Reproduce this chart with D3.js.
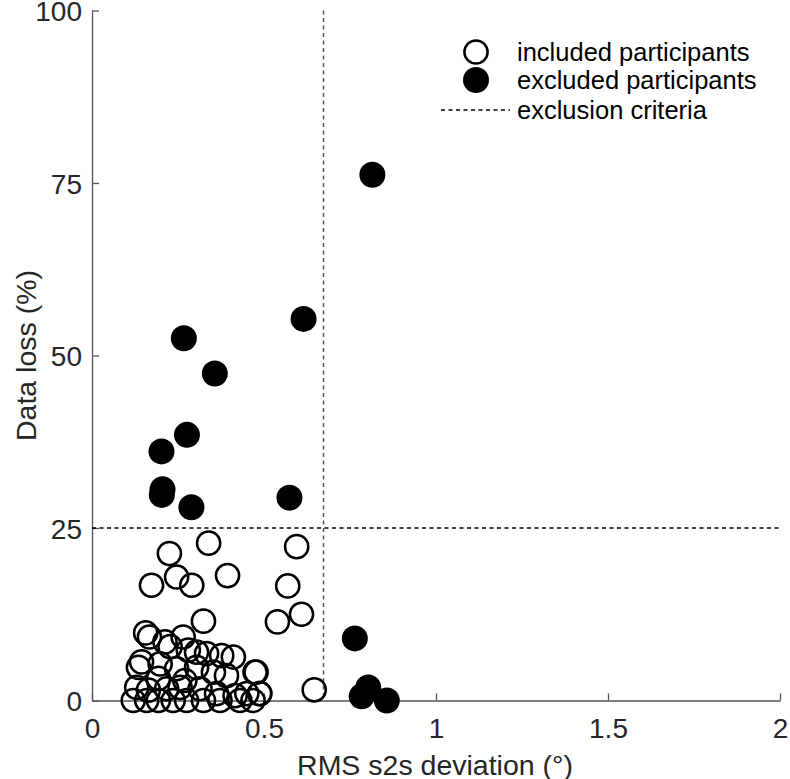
<!DOCTYPE html>
<html><head><meta charset="utf-8">
<script src="https://cdn.jsdelivr.net/npm/d3@7"></script>
<style>body{margin:0;background:#fff}svg{display:block}text{font-family:"Liberation Sans",Arial,sans-serif}</style>
</head><body>
<svg id="c" width="790" height="779"></svg>
<script>
const includedX = [0.225,0.339,0.595,0.569,0.609,0.539,0.646,0.477,0.487,0.173,0.246,0.29,0.394,0.324,
  0.156,0.167,0.212,0.265,0.227,0.304,0.28,0.333,0.377,0.411,0.474,0.135,0.144,0.198,0.246,0.304,0.353,0.391,
  0.193,0.27,0.13,0.164,0.217,0.256,0.314,0.362,0.416,0.45,0.488,0.12,0.159,0.193,0.236,0.275,0.324,0.372,0.43,0.468];
const includedY = [21.3,22.8,22.3,16.6,12.5,11.4,1.55,4.1,1.0,16.7,17.9,16.7,18.1,11.5,
  9.8,9.2,8.5,9.2,7.8,7.0,7.3,6.8,6.5,6.3,4.1,4.8,5.6,5.3,4.6,4.8,4.1,3.6,
  3.2,2.9,1.9,1.5,1.7,1.9,1.7,1.0,0.7,1.0,1.0,0.0,0.0,0.0,0.0,0.0,0.0,0.0,0.0,0.0];
const excludedX = [0.815,0.615,0.267,0.357,0.276,0.202,0.205,0.203,0.289,0.574,0.764,0.803,0.784,0.857];
const excludedY = [76.2,55.3,52.5,47.4,38.5,36.1,30.6,29.8,28.0,29.4,9.0,1.9,0.6,0.0];
const xTicks = [0,0.5,1,1.5,2];
const xTickLabels = ["0","0.5","1","1.5","2"];
const yTicks = [0,25,50,75,100];
const yTickLabels = ["0","25","50","75","100"];
const thresholdX = 0.673;
const thresholdY = 25;
const legendLabels = ["included participants","excluded participants","exclusion criteria"];

const svg = d3.select("#c");
const x = d3.scaleLinear().domain([0,2]).range([92,780]);
const y = d3.scaleLinear().domain([0,100]).range([700.5,10.5]);
const axisCol = "#262626";
const lineCol = "#555";
const R = 11.6;

// axes
const xa = svg.append("g").attr("transform",`translate(0,${y(0)})`)
  .call(d3.axisBottom(x).tickValues(xTicks).tickFormat((d,i)=>xTickLabels[i]).tickSizeInner(-7).tickSizeOuter(0).tickPadding(18));
const ya = svg.append("g").attr("transform",`translate(${x(0)},0)`)
  .call(d3.axisLeft(y).tickValues(yTicks).tickFormat((d,i)=>yTickLabels[i]).tickSizeInner(-7).tickSizeOuter(0).tickPadding(10));
[xa,ya].forEach(g=>{
  g.select(".domain").attr("stroke",lineCol).attr("stroke-width",1.3);
  g.selectAll(".tick line").attr("stroke",lineCol).attr("stroke-width",1.3);
  g.selectAll(".tick text").attr("fill",axisCol).style("font-size","28px");
});
ya.selectAll(".tick text").attr("dy","0.36em");
xa.selectAll(".tick text").attr("dy","0.71em");

// threshold lines
svg.append("line").attr("x1",x(thresholdX)).attr("x2",x(thresholdX)).attr("y1",y(100)).attr("y2",y(0))
  .attr("stroke",lineCol).attr("stroke-width",1.5).attr("stroke-dasharray","4,3.5");
svg.append("line").attr("x1",x(0)).attr("x2",x(2)).attr("y1",y(thresholdY)).attr("y2",y(thresholdY))
  .attr("stroke","#000").attr("stroke-width",1.3).attr("stroke-dasharray","4,3.5");

// points
const inc = includedX.map((v,i)=>({x:v,y:includedY[i]}));
const exc = excludedX.map((v,i)=>({x:v,y:excludedY[i]}));
svg.append("g").selectAll("circle").data(inc).join("circle")
  .attr("cx",d=>x(d.x)).attr("cy",d=>y(d.y)).attr("r",R)
  .attr("fill","none").attr("stroke","#000").attr("stroke-width",2.5);
svg.append("g").selectAll("circle").data(exc).join("circle")
  .attr("cx",d=>x(d.x)).attr("cy",d=>y(d.y)).attr("r",13)
  .attr("fill","#000").attr("stroke","none");

// axis labels
svg.append("text").attr("x",(x(0)+x(2))/2 - 1).attr("y",775).attr("text-anchor","middle")
  .style("font-size","28.5px").attr("fill",axisCol).text("RMS s2s deviation (°)");
svg.append("text").attr("transform",`translate(36,${y(50)}) rotate(-90)`).attr("text-anchor","middle")
  .style("font-size","28.5px").attr("fill",axisCol).text("Data loss (%)");

// legend
const lg = svg.append("g");
const ly = [52,80,110];
lg.append("circle").attr("cx",476).attr("cy",ly[0]).attr("r",R).attr("fill","#fff").attr("stroke","#000").attr("stroke-width",2.5);
lg.append("circle").attr("cx",476).attr("cy",ly[1]).attr("r",13).attr("fill","#000");
lg.append("line").attr("x1",441).attr("x2",510).attr("y1",ly[2]).attr("y2",ly[2]).attr("stroke","#000").attr("stroke-width",1.3).attr("stroke-dasharray","4,3.5");
legendLabels.forEach((t,i)=>{
  lg.append("text").attr("x",517).attr("y",ly[i]).attr("dy","0.35em").style("font-size","25.5px").attr("fill","#000").text(t);
});
</script>
</body></html>
